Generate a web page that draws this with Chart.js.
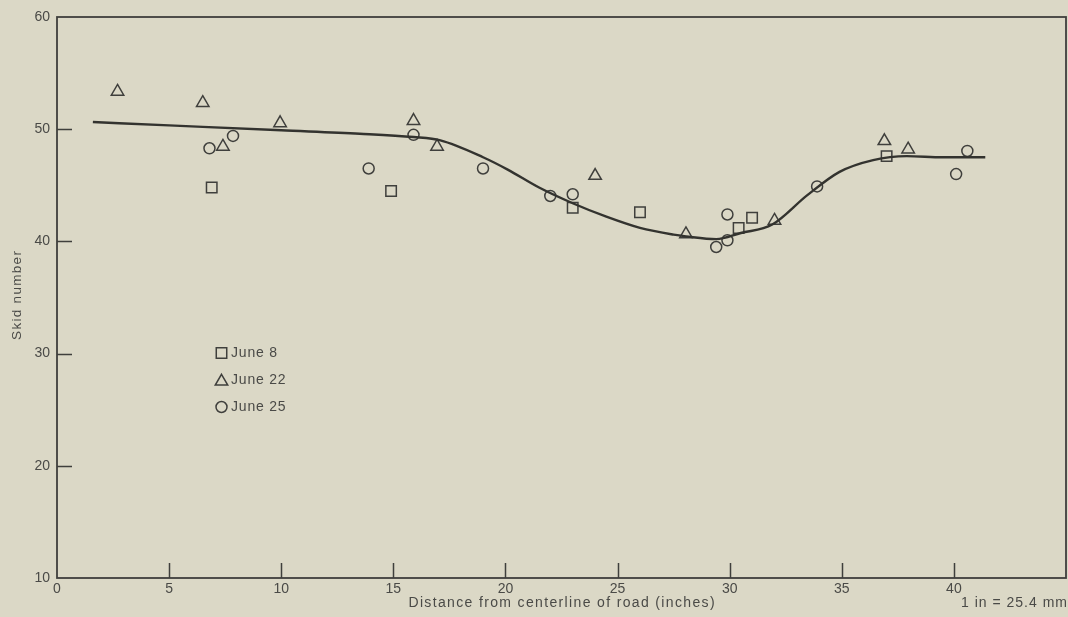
<!DOCTYPE html>
<html>
<head>
<meta charset="utf-8">
<script src="https://cdn.jsdelivr.net/npm/chart.js@4/dist/chart.umd.min.js"></script>
<style>
  html, body { margin: 0; padding: 0; background: #dbd8c6; }
  #wrap { width: 1068px; height: 617px; position: relative; }
</style>
</head>
<body>
<div id="wrap"><canvas id="c" width="1068" height="617"></canvas></div>
<script>
// Skid number measurements across the road, by test date
const june8X  = [6.9, 14.9, 23.0, 26.0, 30.4, 31.0, 37.0];
const june8Y  = [44.8, 44.5, 43.0, 42.6, 41.2, 42.1, 47.6];

const june22X = [2.7, 6.5, 7.4, 9.95, 15.9, 16.95, 24.0, 28.05, 32.0, 36.9, 37.96];
const june22Y = [53.35, 52.35, 48.45, 50.55, 50.75, 48.45, 45.85, 40.65, 41.85, 48.95, 48.2];

const june25X = [6.8, 7.85, 13.9, 15.9, 19.0, 22.0, 23.0, 29.4, 29.9, 29.9, 33.9, 40.1, 40.6];
const june25Y = [48.3, 49.4, 46.5, 49.5, 46.5, 44.05, 44.2, 39.5, 40.1, 42.4, 44.9, 46.0, 48.06];

// Smoothed trend curve drawn through the data
const curveX = [1.6, 5, 10, 13.5, 15.9, 17.1, 19.0, 20.1, 21.5, 23.0, 24.5, 26.0, 27.5, 28.05, 29.4, 30.5, 31.9, 33.45, 34.9, 36.4, 37.9, 39.5, 41.4];
const curveY = [50.64, 50.34, 49.9, 49.6, 49.3, 49.0, 47.5, 46.4, 44.8, 43.4, 42.2, 41.2, 40.6, 40.45, 40.2, 40.75, 41.5, 44.1, 46.2, 47.25, 47.6, 47.5, 47.5];

const xTicks = [5, 10, 15, 20, 25, 30, 35, 40];
const yTicks = [20, 30, 40, 50];

const seriesNames = ['June 8', 'June 22', 'June 25'];
const xTitle = 'Distance from centerline of road (inches)';
const yTitle = 'Skid number';
const unitNote = '1 in = 25.4 mm';

const ink = '#3f3f3c';
const textColor = '#4a4a47';
const fontFamily = '"Liberation Sans", Arial, Helvetica, sans-serif';

const toPoints = (xs, ys) => xs.map((x, i) => ({ x: x, y: ys[i] }));

function markerPath(ctx, style, x, y, r) {
  ctx.beginPath();
  if (style === 'rect') {
    const s = Math.SQRT1_2 * r;
    ctx.rect(x - s, y - s, 2 * s, 2 * s);
  } else if (style === 'triangle') {
    ctx.moveTo(x, y - r);
    ctx.lineTo(x + r * Math.sin(2 * Math.PI / 3), y + r * 0.5);
    ctx.lineTo(x - r * Math.sin(2 * Math.PI / 3), y + r * 0.5);
    ctx.closePath();
  } else {
    ctx.arc(x, y, r, 0, Math.PI * 2);
  }
}

// Draw text with extra tracking; the last letter's trailing space is compensated
function spacedText(ctx, text, x, y, spacing, align) {
  ctx.letterSpacing = spacing + 'px';
  const w = ctx.measureText(text).width - spacing;
  let start = x;
  if (align === 'center') start = x - w / 2;
  else if (align === 'right') start = x - w;
  ctx.textAlign = 'left';
  ctx.fillText(text, start, y);
  ctx.letterSpacing = '0px';
}

// Frame, inward tick marks, axis titles, inset legend and unit note
const decorations = {
  id: 'decorations',
  afterDatasetsDraw(chart) {
    const { ctx, chartArea: a, scales } = chart;
    ctx.save();
    ctx.strokeStyle = ink;
    ctx.lineWidth = 1.8;
    ctx.strokeRect(a.left, a.top, a.right - a.left, a.bottom - a.top);

    ctx.lineWidth = 1.5;
    ctx.beginPath();
    xTicks.forEach(v => {
      const px = Math.round(scales.x.getPixelForValue(v)) + 0.5;
      ctx.moveTo(px, a.bottom);
      ctx.lineTo(px, a.bottom - 15);
    });
    yTicks.forEach(v => {
      const py = Math.round(scales.y.getPixelForValue(v)) + 0.5;
      ctx.moveTo(a.left, py);
      ctx.lineTo(a.left + 15, py);
    });
    ctx.stroke();

    ctx.fillStyle = textColor;
    ctx.textBaseline = 'middle';

    // axis titles
    ctx.font = '14px ' + fontFamily;
    spacedText(ctx, xTitle, (a.left + a.right) / 2, 603, 1.35, 'center');
    ctx.save();
    ctx.translate(17, (a.top + a.bottom) / 2 - 2);
    ctx.rotate(-Math.PI / 2);
    ctx.font = '13.5px ' + fontFamily;
    spacedText(ctx, yTitle, 0, 0, 1.3, 'center');
    ctx.restore();

    // legend
    const styles = ['rect', 'triangle', 'circle'];
    const radii = [7.4, 7.2, 5.5];
    const rowsY = [353, 380, 407];
    ctx.font = '14px ' + fontFamily;
    styles.forEach((s, i) => {
      ctx.strokeStyle = ink;
      ctx.lineWidth = 1.5;
      const my = s === 'triangle' ? rowsY[i] + 1.5 : rowsY[i];
      markerPath(ctx, s, 221.5, my, radii[i]);
      ctx.stroke();
      spacedText(ctx, seriesNames[i], 231, rowsY[i] + 0.5, 0.8, 'left');
    });

    spacedText(ctx, unitNote, 1067, 603, 1.0, 'right');
    ctx.restore();
  }
};

const pointCommon = {
  backgroundColor: 'rgba(0,0,0,0)',
  borderColor: ink,
  pointBorderWidth: 1.5,
  pointBackgroundColor: 'rgba(0,0,0,0)',
  pointBorderColor: ink,
  showLine: false
};

new Chart(document.getElementById('c'), {
  type: 'scatter',
  data: {
    datasets: [
      {
        type: 'line',
        label: 'trend',
        data: toPoints(curveX, curveY),
        borderColor: '#33332f',
        borderWidth: 2.4,
        pointRadius: 0,
        cubicInterpolationMode: 'monotone',
        fill: false
      },
      Object.assign({ label: seriesNames[0], data: toPoints(june8X, june8Y), pointStyle: 'rect', pointRadius: 7.4 }, pointCommon),
      Object.assign({ label: seriesNames[1], data: toPoints(june22X, june22Y), pointStyle: 'triangle', pointRadius: 7.2 }, pointCommon),
      Object.assign({ label: seriesNames[2], data: toPoints(june25X, june25Y), pointStyle: 'circle', pointRadius: 5.5 }, pointCommon)
    ]
  },
  options: {
    responsive: false,
    animation: false,
    events: [],
    layout: { autoPadding: false, padding: { top: 17, right: 2, left: 0, bottom: 0 } },
    plugins: { legend: { display: false }, tooltip: { enabled: false } },
    scales: {
      x: {
        type: 'linear',
        min: 0,
        max: 45,
        afterFit: s => { s.height = 39; s.paddingLeft = 0; s.paddingRight = 0; },
        grid: { display: false, drawTicks: false },
        border: { display: false },
        ticks: {
          stepSize: 5,
          padding: 3,
          color: textColor,
          font: { family: fontFamily, size: 14 },
          maxRotation: 0,
          callback: v => (v <= 40 ? String(v) : '')
        }
      },
      y: {
        type: 'linear',
        min: 10,
        max: 60,
        afterFit: s => { s.width = 57; s.paddingTop = 0; s.paddingBottom = 0; },
        grid: { display: false, drawTicks: false },
        border: { display: false },
        ticks: {
          stepSize: 10,
          padding: 7,
          color: textColor,
          font: { family: fontFamily, size: 14 }
        }
      }
    }
  },
  plugins: [decorations]
});
</script>
</body>
</html>
